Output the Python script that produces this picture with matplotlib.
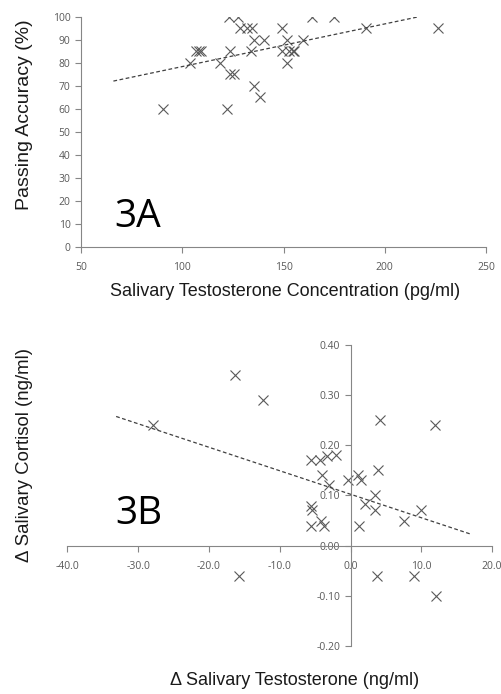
import numpy as np
import matplotlib
matplotlib.use('Agg')
import matplotlib.pyplot as plt

# Panel 3A: salivary testosterone (pg/ml) vs passing accuracy (%)
testo_a = [90.7, 103.6, 106.9, 108.4, 109.4, 118.5, 122.1, 123.1, 123.4, 123.8,
           125.4, 127.7, 128.4, 132.0, 133.7, 134.5, 135.3, 135.6, 138.6, 140.2,
           149.3, 149.3, 151.5, 151.5, 152.6, 154.8, 155.2, 159.6, 164.2, 174.9,
           190.6, 226.4]
accuracy_a = [60, 80, 85, 85, 85, 80, 60, 100, 85, 75,
              75, 100, 95, 95, 85, 95, 70, 90, 65, 90,
              95, 85, 90, 80, 85, 85, 85, 90, 100, 100,
              95, 95]
trend_a_range = [66, 216]

# Panel 3B: change in testosterone vs change in cortisol
d_testo = [-27.9, -16.3, -12.4, -5.6, -4.3, -3.3, -2.1, -4.0, -3.1, -0.3,
           1.0, 1.5, 4.1, 3.9, 3.5, 2.1, 3.4, 12.0, 10.0, 7.6,
           -5.6, -5.4, -5.6, -4.2, -3.8, 1.2, -15.7, 3.8, 8.9, 12.1]
d_cortisol = [0.24, 0.34, 0.29, 0.17, 0.17, 0.178, 0.18, 0.14, 0.12, 0.13,
              0.14, 0.13, 0.25, 0.15, 0.10, 0.083, 0.071, 0.24, 0.071, 0.05,
              0.08, 0.071, 0.04, 0.05, 0.04, 0.039, -0.06, -0.06, -0.06, -0.10]
trend_b_range = [-33.1, 17.1]

grey = '#595959'
axis_grey = '#868686'
label_font = ['Liberation Sans', 'DejaVu Sans']
plt.rcParams['font.family'] = ['Open Sans', 'DejaVu Sans']

fig = plt.figure(figsize=(5.01, 6.94), dpi=100)

# ---- 3A ----
ax1 = fig.add_axes([0.1617, 0.6445, 0.8084, 0.331])
ax1.plot(testo_a, accuracy_a, linestyle='none', marker='x', markersize=7.5,
         markeredgewidth=0.8, color=grey)
slope, icpt = np.polyfit(testo_a, accuracy_a, 1)
xs = np.array(trend_a_range)
ax1.plot(xs, slope * xs + icpt, linestyle=(0, (3, 2)), color='#404040', linewidth=0.9)
ax1.set_xlim(50, 250)
ax1.set_ylim(0, 100)
ax1.set_xticks([50, 100, 150, 200, 250])
ax1.set_yticks(range(0, 101, 10))
ax1.text(66.3, 8.6, '3A', fontsize=28, color='black')
ax1.set_ylabel('Passing Accuracy (%)', fontsize=14, color='#1a1a1a', family=label_font)
ax1.yaxis.set_label_coords(-0.1185, 0.573)
ax1.set_xlabel('Salivary Testosterone Concentration (pg/ml)', fontsize=13,
               color='#1a1a1a', family=label_font)
ax1.xaxis.set_label_coords(0.504, -0.158)

# ---- 3B ----
ax2 = fig.add_axes([0.1343, 0.0692, 0.848, 0.4337])
ax2.plot(d_testo, d_cortisol, linestyle='none', marker='x', markersize=7.5,
         markeredgewidth=0.8, color=grey)
slope_b, icpt_b = np.polyfit(d_testo, d_cortisol, 1)
xb = np.array(trend_b_range)
ax2.plot(xb, slope_b * xb + icpt_b, linestyle=(0, (3, 2)), color='#404040', linewidth=0.9)
ax2.set_xlim(-40, 20)
ax2.set_ylim(-0.2, 0.4)
ax2.set_xticks(np.arange(-40, 21, 10))
ax2.set_yticks(np.arange(-0.2, 0.41, 0.1))
ax2.set_xticklabels([f'{v:.1f}' for v in np.arange(-40, 21, 10)])
ax2.set_yticklabels([f'{v:.2f}' for v in np.arange(-0.2, 0.41, 0.1)])
ax2.spines['left'].set_position(('data', 0))
ax2.spines['bottom'].set_position(('data', 0))
ax2.text(-33.2, 0.044, '3B', fontsize=28, color='black')
ax2.set_ylabel('\u0394 Salivary Cortisol (ng/ml)', fontsize=13.4, color='#1a1a1a',
               family=label_font)
ax2.yaxis.set_label_coords(-0.081, 0.633)
ax2.set_xlabel('\u0394 Salivary Testosterone (ng/ml)', fontsize=13, color='#1a1a1a',
               family=label_font)
ax2.xaxis.set_label_coords(0.536, -0.086)

for ax in (ax1, ax2):
    for s in ('top', 'right'):
        ax.spines[s].set_visible(False)
    for s in ('left', 'bottom'):
        ax.spines[s].set_color(axis_grey)
        ax.spines[s].set_linewidth(0.8)
    ax.tick_params(labelsize=7.5, colors=axis_grey, labelcolor=grey,
                   length=4, width=0.8, direction='out')
    ax.tick_params(axis='x', pad=7)

fig.savefig('out.png', dpi=100)
